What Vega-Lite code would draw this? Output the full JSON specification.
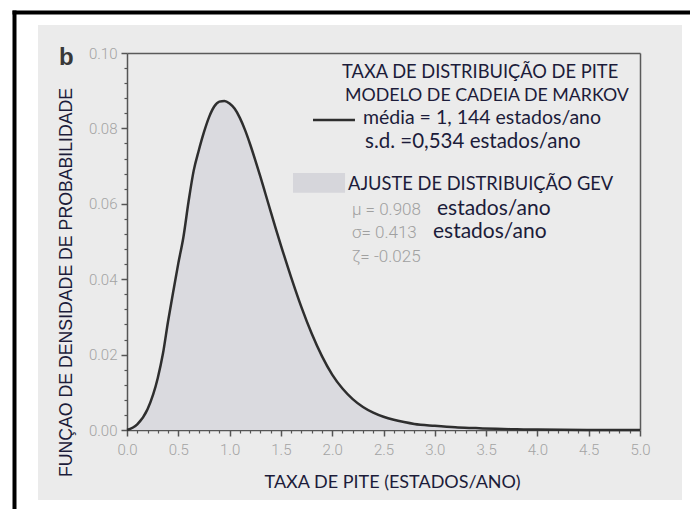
{
  "$schema": "https://vega.github.io/schema/vega-lite/v6.json",
  "width": 644,
  "height": 475,
  "autosize": {"type": "none"},
  "padding": {"left": 38, "top": 25, "right": 8, "bottom": 9},
  "background": "#ffffff",
  "config": {
    "view": {"fill": "#ebebeb", "stroke": null},
    "axis": {"grid": false, "labelFlush": false, "labelOverlap": false, "labelBound": false}
  },
  "datasets": {
    "pdf": [
      {"x": 0.0, "y": 0.0},
      {"x": 0.1, "y": 0.0015},
      {"x": 0.2, "y": 0.0055},
      {"x": 0.3, "y": 0.0138},
      {"x": 0.35, "y": 0.0202},
      {"x": 0.4, "y": 0.0288},
      {"x": 0.45, "y": 0.0366},
      {"x": 0.5, "y": 0.0442},
      {"x": 0.55, "y": 0.0512},
      {"x": 0.6, "y": 0.0606},
      {"x": 0.65, "y": 0.0688},
      {"x": 0.7, "y": 0.0742},
      {"x": 0.75, "y": 0.0790},
      {"x": 0.8, "y": 0.0830},
      {"x": 0.85, "y": 0.0858},
      {"x": 0.9, "y": 0.0871},
      {"x": 0.95, "y": 0.0873},
      {"x": 1.0, "y": 0.0866},
      {"x": 1.05, "y": 0.0852},
      {"x": 1.1, "y": 0.0828},
      {"x": 1.15, "y": 0.0796},
      {"x": 1.2, "y": 0.0758},
      {"x": 1.25, "y": 0.0716},
      {"x": 1.3, "y": 0.0672},
      {"x": 1.35, "y": 0.0626},
      {"x": 1.4, "y": 0.0580},
      {"x": 1.45, "y": 0.0534},
      {"x": 1.5, "y": 0.0490},
      {"x": 1.6, "y": 0.0405},
      {"x": 1.7, "y": 0.0326},
      {"x": 1.8, "y": 0.0256},
      {"x": 1.9, "y": 0.0196},
      {"x": 2.0, "y": 0.0147},
      {"x": 2.1, "y": 0.0110},
      {"x": 2.2, "y": 0.0082},
      {"x": 2.3, "y": 0.0061},
      {"x": 2.4, "y": 0.0046},
      {"x": 2.5, "y": 0.0035},
      {"x": 2.6, "y": 0.0027},
      {"x": 2.7, "y": 0.0021},
      {"x": 2.8, "y": 0.0016},
      {"x": 3.0, "y": 0.0011},
      {"x": 3.2, "y": 0.0007},
      {"x": 3.4, "y": 0.0005},
      {"x": 3.6, "y": 0.0003},
      {"x": 3.8, "y": 0.0002},
      {"x": 4.0, "y": 0.0001},
      {"x": 4.5, "y": 0.0},
      {"x": 5.0, "y": 0.0}
    ]
  },
  "layer": [
    {
      "layer": [
        {
          "data": {"name": "pdf"},
          "mark": {"type": "area", "color": "#dadadf"},
          "encoding": {
            "x": {
              "field": "x", "type": "quantitative",
              "scale": {"domain": [0, 5], "range": [89, 602], "nice": false, "zero": false},
              "axis": {
                "orient": "bottom", "offset": -70,
                "values": [0, 0.5, 1, 1.5, 2, 2.5, 3, 3.5, 4, 4.5, 5], "format": ".1f",
                "domainColor": "#555555", "domainWidth": 1.5,
                "tickColor": "#555555", "tickWidth": 1.5, "tickSize": 6,
                "labelFont": "Roboto", "labelFontWeight": 300, "labelFontSize": 15,
                "labelColor": "#a3a3a3", "labelPadding": 6,
                "title": "TAXA DE PITE (ESTADOS/ANO)",
                "titleFont": "Lato", "titleFontSize": 18, "titleFontWeight": "normal",
                "titleColor": "#1c1c3a", "titleX": 354, "titleY": 57,
                "titleAlign": "center", "titleBaseline": "alphabetic"
              }
            },
            "y": {
              "field": "y", "type": "quantitative",
              "scale": {"domain": [0, 0.1], "range": [405, 28], "nice": false, "zero": false},
              "axis": {
                "orient": "left", "offset": -89,
                "values": [0, 0.02, 0.04, 0.06, 0.08, 0.1], "format": ".2f",
                "domainColor": "#555555", "domainWidth": 1.5,
                "tickColor": "#555555", "tickWidth": 1.5, "tickSize": 6,
                "labelFont": "Roboto", "labelFontWeight": 300, "labelFontSize": 15,
                "labelColor": "#a3a3a3", "labelPadding": 4,
                "title": "FUNÇAO DE DENSIDADE DE PROBABILIDADE",
                "titleFont": "Liberation Sans", "titleFontSize": 17.7, "titleFontWeight": "normal",
                "titleColor": "#1c1c3a", "titleX": -56, "titleY": 257,
                "titleAngle": 270, "titleAlign": "center", "titleBaseline": "alphabetic"
              }
            }
          }
        },
        {
          "data": {"name": "pdf"},
          "mark": {"type": "line", "color": "#2e2e2e", "strokeWidth": 2.5, "interpolate": "monotone"},
          "encoding": {
            "x": {"field": "x", "type": "quantitative", "axis": null},
            "y": {"field": "y", "type": "quantitative", "axis": null}
          }
        },
        {
          "data": {"name": "pdf"},
          "mark": {"type": "line", "opacity": 0},
          "encoding": {
            "x": {
              "field": "x", "type": "quantitative",
              "axis": {
                "orient": "bottom", "offset": -70, "domain": false, "labels": false, "title": null,
                "values": [0.1, 0.2, 0.3, 0.4, 0.6, 0.7, 0.8, 0.9, 1.1, 1.2, 1.3, 1.4, 1.6, 1.7, 1.8, 1.9, 2.1, 2.2, 2.3, 2.4, 2.6, 2.7, 2.8, 2.9, 3.1, 3.2, 3.3, 3.4, 3.6, 3.7, 3.8, 3.9, 4.1, 4.2, 4.3, 4.4, 4.6, 4.7, 4.8, 4.9],
                "tickColor": "#555555", "tickWidth": 1.2, "tickSize": 3
              }
            },
            "y": {
              "field": "y", "type": "quantitative",
              "axis": {
                "orient": "left", "offset": -89, "domain": false, "labels": false, "title": null,
                "values": [0.004, 0.008, 0.012, 0.016, 0.024, 0.028, 0.032, 0.036, 0.044, 0.048, 0.052, 0.056, 0.064, 0.068, 0.072, 0.076, 0.084, 0.088, 0.092, 0.096],
                "tickColor": "#555555", "tickWidth": 1.2, "tickSize": 3
              }
            }
          }
        },
        {
          "data": {"name": "pdf"},
          "mark": {"type": "line", "opacity": 0},
          "encoding": {
            "x": {
              "field": "x", "type": "quantitative",
              "axis": {"orient": "top", "offset": -28, "ticks": false, "labels": false, "title": null,
                       "domainColor": "#5a5a5a", "domainWidth": 1.5}
            },
            "y": {
              "field": "y", "type": "quantitative",
              "axis": {"orient": "right", "offset": -42, "ticks": false, "labels": false, "title": null,
                       "domainColor": "#5a5a5a", "domainWidth": 1.5}
            }
          }
        },
        {
          "data": {"values": [{"label": "b"}]},
          "mark": {"type": "text", "align": "left", "baseline": "alphabetic", "font": "Liberation Sans",
                   "fontWeight": "bold", "fontSize": 24, "color": "#383838"},
          "encoding": {
            "x": {"datum": -0.663, "type": "quantitative", "axis": null},
            "y": {"datum": 0.0968, "type": "quantitative", "axis": null},
            "text": {"field": "label"}
          }
        },
        {
          "data": {"values": [{"label": "TAXA DE DISTRIBUIÇÃO DE PITE"}]},
          "mark": {"type": "text", "align": "left", "baseline": "alphabetic", "font": "Lato",
                   "fontSize": 18.3, "color": "#1c1c3a"},
          "encoding": {
            "x": {"datum": 2.0955, "type": "quantitative", "axis": null},
            "y": {"datum": 0.09324, "type": "quantitative", "axis": null},
            "text": {"field": "label"}
          }
        },
        {
          "data": {"values": [{"label": "MODELO DE CADEIA DE MARKOV"}]},
          "mark": {"type": "text", "align": "left", "baseline": "alphabetic", "font": "Lato",
                   "fontSize": 17.8, "color": "#1c1c3a"},
          "encoding": {
            "x": {"datum": 2.1248, "type": "quantitative", "axis": null},
            "y": {"datum": 0.08714, "type": "quantitative", "axis": null},
            "text": {"field": "label"}
          }
        },
        {
          "data": {"values": [{"series": "Cadeia de Markov"}]},
          "mark": {"type": "rule", "color": "#2e2e2e", "strokeWidth": 2.5},
          "encoding": {
            "x": {"datum": 1.813, "type": "quantitative", "axis": null},
            "x2": {"datum": 2.222},
            "y": {"datum": 0.08223, "type": "quantitative", "axis": null}
          }
        },
        {
          "data": {"values": [{"label": "média = 1, 144 estados/ano"}]},
          "mark": {"type": "text", "align": "left", "baseline": "alphabetic", "font": "Lato",
                   "fontSize": 19.5, "color": "#1c1c3a"},
          "encoding": {
            "x": {"datum": 2.300, "type": "quantitative", "axis": null},
            "y": {"datum": 0.08117, "type": "quantitative", "axis": null},
            "text": {"field": "label"}
          }
        },
        {
          "data": {"values": [{"label": "s.d. =0,534 estados/ano"}]},
          "mark": {"type": "text", "align": "left", "baseline": "alphabetic", "font": "Lato",
                   "fontSize": 20.5, "color": "#1c1c3a"},
          "encoding": {
            "x": {"datum": 2.3197, "type": "quantitative", "axis": null},
            "y": {"datum": 0.07467, "type": "quantitative", "axis": null},
            "text": {"field": "label"}
          }
        },
        {
          "data": {"values": [{"series": "Ajuste GEV"}]},
          "mark": {"type": "rect", "color": "#d6d6db"},
          "encoding": {
            "x": {"datum": 1.618, "type": "quantitative", "axis": null},
            "x2": {"datum": 2.125},
            "y": {"datum": 0.0682, "type": "quantitative", "axis": null},
            "y2": {"datum": 0.0629}
          }
        },
        {
          "data": {"values": [{"label": "AJUSTE DE DISTRIBUIÇÃO GEV"}]},
          "mark": {"type": "text", "align": "left", "baseline": "alphabetic", "font": "Lato",
                   "fontSize": 18.3, "color": "#1c1c3a"},
          "encoding": {
            "x": {"datum": 2.154, "type": "quantitative", "axis": null},
            "y": {"datum": 0.06366, "type": "quantitative", "axis": null},
            "text": {"field": "label"}
          }
        },
        {
          "data": {"values": [
            {"label": "μ = 0.908", "row": 1},
            {"label": "σ= 0.413", "row": 2},
            {"label": "ζ= -0.025", "row": 3}
          ]},
          "layer": [
            {
              "transform": [{"filter": "datum.row === 1"}],
              "mark": {"type": "text", "align": "left", "baseline": "alphabetic", "font": "Roboto",
                       "fontWeight": 300, "fontSize": 17, "color": "#a0a0a0"},
              "encoding": {
                "x": {"datum": 2.193, "type": "quantitative", "axis": null},
                "y": {"datum": 0.05703, "type": "quantitative", "axis": null},
                "text": {"field": "label"}
              }
            },
            {
              "transform": [{"filter": "datum.row === 2"}],
              "mark": {"type": "text", "align": "left", "baseline": "alphabetic", "font": "Roboto",
                       "fontWeight": 300, "fontSize": 17, "color": "#a0a0a0"},
              "encoding": {
                "x": {"datum": 2.193, "type": "quantitative", "axis": null},
                "y": {"datum": 0.05093, "type": "quantitative", "axis": null},
                "text": {"field": "label"}
              }
            },
            {
              "transform": [{"filter": "datum.row === 3"}],
              "mark": {"type": "text", "align": "left", "baseline": "alphabetic", "font": "Roboto",
                       "fontWeight": 300, "fontSize": 17, "color": "#a0a0a0"},
              "encoding": {
                "x": {"datum": 2.193, "type": "quantitative", "axis": null},
                "y": {"datum": 0.04456, "type": "quantitative", "axis": null},
                "text": {"field": "label"}
              }
            }
          ]
        },
        {
          "data": {"values": [{"label": "estados/ano"}]},
          "mark": {"type": "text", "align": "left", "baseline": "alphabetic", "font": "Lato",
                   "fontSize": 21, "color": "#1c1c3a"},
          "encoding": {
            "x": {"datum": 3.021, "type": "quantitative", "axis": null},
            "y": {"datum": 0.05703, "type": "quantitative", "axis": null},
            "text": {"field": "label"}
          }
        },
        {
          "data": {"values": [{"label": "estados/ano"}]},
          "mark": {"type": "text", "align": "left", "baseline": "alphabetic", "font": "Lato",
                   "fontSize": 21, "color": "#1c1c3a"},
          "encoding": {
            "x": {"datum": 2.982, "type": "quantitative", "axis": null},
            "y": {"datum": 0.05093, "type": "quantitative", "axis": null},
            "text": {"field": "label"}
          }
        }
      ],
      "resolve": {"axis": {"x": "independent", "y": "independent"}}
    },
    {
      "data": {"name": "pdf"},
      "mark": {"type": "point", "opacity": 0},
      "encoding": {
        "x": {
          "field": "x", "type": "quantitative",
          "scale": {"domain": [0, 5], "range": [-26, 660], "nice": false, "zero": false},
          "axis": {"orient": "top", "offset": 13, "ticks": false, "labels": false, "title": null,
                   "domainColor": "#000000", "domainWidth": 4}
        },
        "y": {
          "field": "y", "type": "quantitative",
          "scale": {"domain": [0, 0.1], "range": [490, -15], "nice": false, "zero": false},
          "axis": {"orient": "left", "offset": 24, "ticks": false, "labels": false, "title": null,
                   "domainColor": "#000000", "domainWidth": 4}
        }
      }
    }
  ],
  "resolve": {"scale": {"x": "independent", "y": "independent"}}
}
